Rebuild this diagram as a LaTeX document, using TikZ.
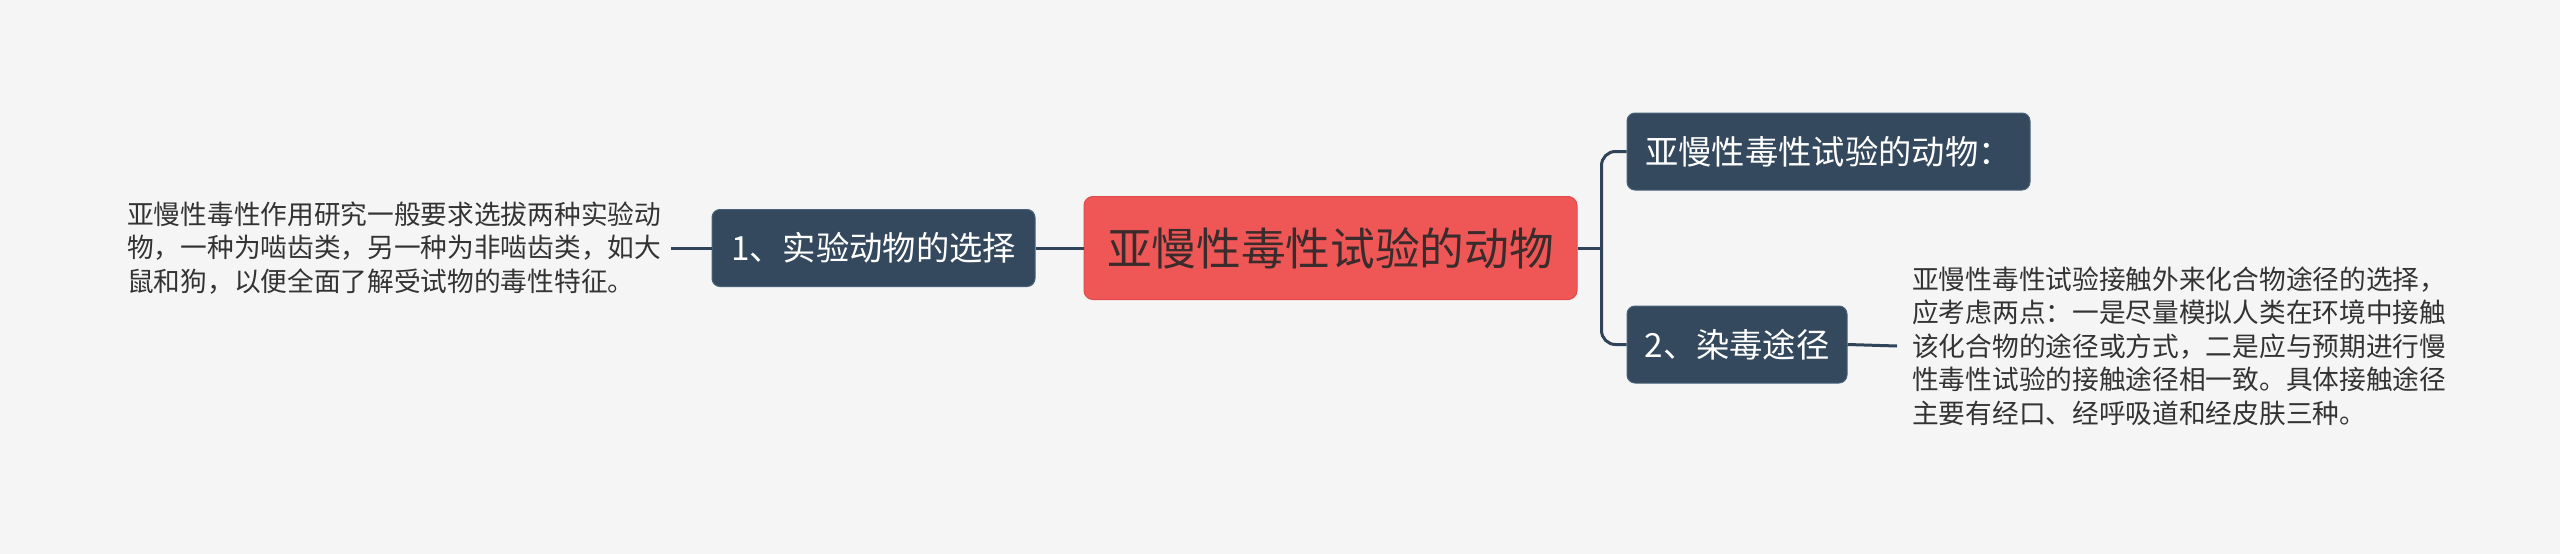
\documentclass[tikz,border=0pt]{standalone}
\usepackage{fontspec}
\setmainfont{Noto Sans CJK SC}
\usetikzlibrary{positioning}
\definecolor{bgcol}{HTML}{F5F5F5}
\definecolor{rootfill}{HTML}{EF5656}
\definecolor{rootline}{HTML}{E04A4C}
\definecolor{roottext}{HTML}{3A2C2C}
\definecolor{branchfill}{HTML}{34495E}
\definecolor{branchline}{HTML}{4A6279}
\definecolor{linkcol}{HTML}{2F4459}
\definecolor{notetext}{HTML}{333333}
\begin{document}
\begin{tikzpicture}[x=1pt,y=-1pt,
    topic/.style={rectangle, rounded corners=9pt, fill=rootfill, draw=rootline, line width=1pt,
      text=roottext, inner sep=0pt, minimum width=493pt, minimum height=103pt,
      font=\fontsize{44.7}{50}\selectfont},
    branch/.style={rectangle, rounded corners=8pt, fill=branchfill, draw=branchline, line width=1pt,
      text=white, inner sep=0pt, minimum height=77pt, font=\fontsize{33.3}{40}\selectfont},
    note/.style={align=left, inner sep=0pt, text=notetext, font=\fontsize{26.7}{33.5}\selectfont},
    link/.style={draw=linkcol, line width=3pt}]
  \fill[bgcol] (0,0) rectangle (2560,554);
  \node[topic] (root) at (1330.5,248) {亚慢性毒性试验的动物};
  \node[branch, minimum width=323pt] (sel) at (873.5,248) {1、实验动物的选择};
  \node[note, anchor=west] (selnote) at (127,248) {亚慢性毒性作用研究一般要求选拔两种实验动\\物，一种为啮齿类，另一种为非啮齿类，如大\\鼠和狗，以便全面了解受试物的毒性特征。};
  \node[branch, minimum width=403pt] (animals) at (1828.5,151.5) {亚慢性毒性试验的动物：};
  \node[branch, minimum width=220pt] (route) at (1737,344.5) {2、染毒途径};
  \node[note, anchor=west] (routenote) at (1912,346) {亚慢性毒性试验接触外来化合物途径的选择，\\应考虑两点：一是尽量模拟人类在环境中接触\\该化合物的途径或方式，二是应与预期进行慢\\性毒性试验的接触途径相一致。具体接触途径\\主要有经口、经呼吸道和经皮肤三种。};
  \draw[link] (root.west) -- (sel.east);
  \draw[link] ([xshift=10pt]selnote.east) -- (sel.west);
  \draw[link] (root.east) -- ++(24,0) coordinate (fork);
  \draw[link, rounded corners=14pt] (fork) |- (animals.west);
  \draw[link, rounded corners=14pt] (fork) |- (route.west);
  \draw[link] (route.east) -- ([xshift=-15pt]routenote.west);
\end{tikzpicture}
\end{document}
